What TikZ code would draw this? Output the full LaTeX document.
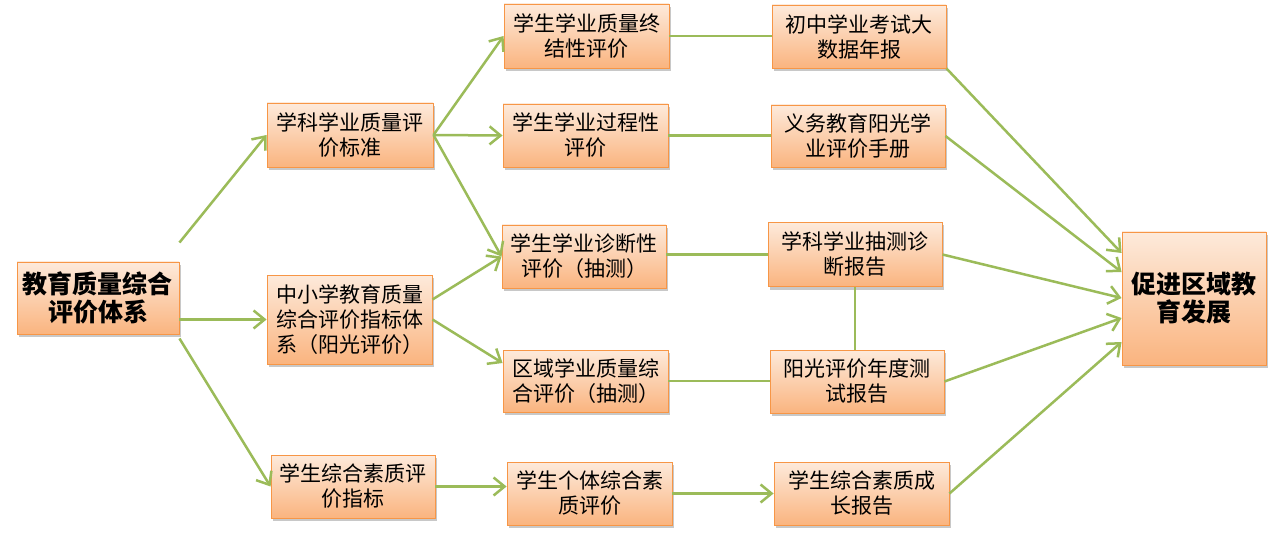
\documentclass[tikz,border=0pt]{standalone}
\usepackage{fontspec}
\setmainfont{Noto Sans CJK SC}
\usetikzlibrary{arrows.meta,shadows}
\definecolor{ortop}{HTML}{FDEADB}
\definecolor{orbot}{HTML}{FAB47F}
\definecolor{orline}{HTML}{F79646}
\definecolor{grn}{HTML}{9BBB59}
\tikzset{
  box/.style={draw=orline, line width=0.9pt, top color=ortop, bottom color=orbot,
    align=center, inner sep=1pt, text=black,
    font=\fontsize{21}{25}\selectfont,
    drop shadow={shadow xshift=2pt, shadow yshift=-3pt, opacity=0.3, fill=black!70}},
  bigbox/.style={box, font=\fontsize{25}{28}\selectfont\bfseries},
  conn/.style={draw=grn, line width=2.5pt},
  arr/.style={conn, -{Straight Barb[length=11pt,width=18pt]}}
}
\begin{document}
\begin{tikzpicture}[x=1pt,y=-1pt]
\useasboundingbox (0,0) rectangle (1280,540);
\fill[white] (0,0) rectangle (1280,540);
% column A
\node[bigbox, minimum width=162pt, minimum height=72pt] (A) at (98,298) {教育质量综合\\评价体系};
% column B
\node[box, minimum width=166pt, minimum height=64pt] (B1) at (350,135) {学科学业质量评\\价标准};
\node[box, minimum width=165pt, minimum height=89pt] (B2) at (349.5,319.5) {中小学教育质量\\综合评价指标体\\系（阳光评价）};
\node[box, minimum width=164pt, minimum height=63pt] (B3) at (353,486.5) {学生综合素质评\\价指标};
% column C
\node[box, minimum width=165pt, minimum height=64pt] (C1) at (586.5,36) {学生学业质量终\\结性评价};
\node[box, minimum width=165pt, minimum height=63pt] (C2) at (585.5,135.5) {学生学业过程性\\评价};
\node[box, minimum width=164pt, minimum height=63pt] (C3) at (584,256.5) {学生学业诊断性\\评价（抽测）};
\node[box, minimum width=165pt, minimum height=62pt] (C4) at (585.5,381) {区域学业质量综\\合评价（抽测）};
\node[box, minimum width=165pt, minimum height=63pt] (C5) at (589.5,493.5) {学生个体综合素\\质评价};
% column D
\node[box, minimum width=174pt, minimum height=63pt] (D1) at (859,36.5) {初中学业考试大\\数据年报};
\node[box, minimum width=174pt, minimum height=62pt] (D2) at (858,136) {义务教育阳光学\\业评价手册};
\node[box, minimum width=174pt, minimum height=64pt] (D3) at (855,254.5) {学科学业抽测诊\\断报告};
\node[box, minimum width=174pt, minimum height=63pt] (D4) at (857,381.5) {阳光评价年度测\\试报告};
\node[box, minimum width=175pt, minimum height=63pt] (D5) at (861.5,493.5) {学生综合素质成\\长报告};
% column E
\node[bigbox, minimum width=144pt, minimum height=133pt] (E) at (1194,298.5) {促进区域教\\育发展};

% connectors A -> B
\coordinate (a1) at ([yshift=19pt]A.north east);
\coordinate (a3) at ([yshift=-4pt]A.south east);
\draw[arr] (a1) -- (B1.west);
\draw[arr] (A.east |- B2.west) -- (B2.west);
\draw[arr] (a3) -- (B3.west);
% B -> C
\draw[arr] (B1.east) -- (C1.west);
\draw[arr] (B1.east) -- (C2.west);
\draw[arr] (B1.east) -- (C3.west);
\draw[arr] ([yshift=20pt]B2.east) -- (C3.west);
\draw[arr] (B2.east) -- ([yshift=18pt]C4.west);
\draw[arr] (B3.east) -- (B3.east -| C5.west);
% C -- D
\draw[conn] (C1.east) -- (C1.east -| D1.west);
\draw[conn] (C2.east) -- (C2.east -| D2.west);
\draw[conn] (C3.east |- D3.west) -- (D3.west);
\draw[conn] (C4.east) -- (C4.east -| D4.west);
\draw[conn] (D3.south) -- (D3.south |- D4.north);
\draw[arr] (C5.east |- D5.west) -- (D5.west);
% D -> E
\draw[arr] (D1.south east) -- ([yshift=45.5pt]E.west);
\draw[arr] (D2.east) -- ([yshift=26.5pt]E.west);
\draw[arr] (D3.east) -- ([yshift=0.5pt]E.west);
\draw[arr] (D4.east) -- ([yshift=-19.5pt]E.west);
\draw[arr] (D5.east) -- ([yshift=-43.5pt]E.west);
\end{tikzpicture}
\end{document}
